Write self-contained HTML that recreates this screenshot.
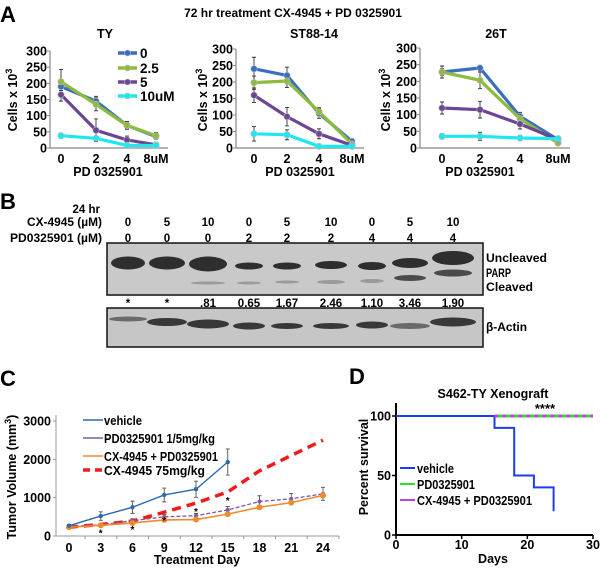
<!DOCTYPE html>
<html><head><meta charset="utf-8">
<style>
html,body{margin:0;padding:0;background:#fff;}
svg{display:block;font-family:"Liberation Sans",Arial,sans-serif;font-weight:bold;}
</style></head>
<body>
<svg id="fig" width="600" height="568" viewBox="0 0 600 568" xmlns="http://www.w3.org/2000/svg">
<text x="0" y="22" font-size="22">A</text>
<text x="293" y="17" font-size="12" text-anchor="middle">72 hr treatment CX-4945 + PD 0325901</text>
<g id="pa"></g>
<text x="0" y="209" font-size="22">B</text>
<g id="pb"></g>
<text x="0" y="386" font-size="22">C</text>
<g id="pc"></g>
<text x="349" y="384" font-size="22">D</text>
<g id="pd"></g>
</svg>
<script>
// ===== Panel A data =====
const aCats = ["0","2","4","8uM"];
const aTicks = [0,50,100,150,200,250,300];
const aSeriesNames = ["0","2.5","5","10uM"];
const tyS0 = [190,145,70,35];
const tyS25 = [205,135,70,38];
const tyS5 = [165,55,25,10];
const tyS10 = [38,30,8,8];
const stS0 = [240,220,105,20];
const stS25 = [198,203,110,12];
const stS5 = [160,95,43,8];
const stS10 = [43,40,5,5];
const t26S0 = [228,240,95,25];
const t26S25 = [228,203,88,15];
const t26S5 = [120,115,72,25];
const t26S10 = [35,35,30,28];
const tyErr = [[12,15,10,8],[38,20,12,10],[20,35,12,5],[8,5,5,4]];
const stErr = [[35,25,15,8],[20,20,12,6],[22,28,15,5],[22,15,5,3]];
const t26Err = [[10,8,12,10],[18,25,15,8],[18,25,15,6],[8,12,8,5]];

// ===== Panel B data =====
const bLanesCX = ["0","5","10","0","5","10","0","5","10"];
const bLanesPD = ["0","0","0","2","2","2","4","4","4"];
const bRatios = ["*","*",".81","0.65","1.67","2.46","1.10","3.46","1.90"];

// ===== Panel C data =====
const cDays = [0,3,6,9,12,15,18,21,24];
const cTicksY = [0,1000,2000,3000];
const cVehicle = [270,520,750,1070,1220,1930];
const cPD = [250,290,400,500,530,680,900,970,1100];
const cCombo = [230,280,340,420,430,570,750,870,1060];
const cCX = [230,300,390,620,860,1150,1700,2100,2500];
const cVehErr = [30,110,160,180,210,340];
const cPDErr = [20,40,50,60,60,90,150,140,170];

// ===== Panel D data =====
const dTimes = [0,15,18,21,24];
const dVehicle = [100,90,50,40,20];
const dPDTimes = [15,30];
const dPD = [100,100];
const dTicksX = [0,10,20,30];
const dTicksY = [0,50,100];

const NS = "http://www.w3.org/2000/svg";
function mk(parent, tag, attrs, txt){
  const e = document.createElementNS(NS, tag);
  for (const k in attrs) e.setAttribute(k, attrs[k]);
  if (txt !== undefined) e.textContent = txt;
  parent.appendChild(e);
  return e;
}

// ===== Panel A drawing =====
const aColors = ["#3a6fc0","#8dbb3c","#6d4596","#1de8f0"];
const pa = document.getElementById("pa");
function drawA(id, title, x0, catX, ylabX, yTop, data, errs, titleX, pdX, legend){
  const g = mk(pa, "g", {});
  
  
  const y0 = 148;
  const ys = v => y0 - (v / 300) * (y0 - yTop);
  const xs = i => catX[i];
  const axisR = catX[3] + 12;
  let e = mk(g, "line", {x1:x0, y1:yTop, x2:x0, y2:y0, stroke:"#888", "stroke-width":1.2});
  
  
  e = mk(g, "line", {x1:x0, y1:y0, x2:axisR, y2:y0, stroke:"#888", "stroke-width":1.2});
  
  
  aTicks.forEach(t => {
    mk(g, "line", {x1:x0-3, y1:ys(t), x2:x0, y2:ys(t), stroke:"#888"});
    const tt = mk(g, "text", {x:x0-3, y:ys(t)+4.5, "font-size":12.5, "text-anchor":"end"}, String(t));
    
    
  });
  aCats.forEach((c, i) => {
    const tt = mk(g, "text", {x:xs(i), y:163, "font-size":12.5, "text-anchor":"middle"}, c);
    
    
  });
  e = mk(g, "text", {x:pdX, y:176, "font-size":12.5, "text-anchor":"middle"}, "PD 0325901");
  
  
  e = mk(g, "text", {x:titleX, y:38, "font-size":12.5, "text-anchor":"middle"}, title);
  
  
  e = mk(g, "text", {x:0, y:0, "font-size":12.5, "text-anchor":"middle", transform:`translate(${ylabX+5},100) rotate(-90)`});
  
  
  mk(e, "tspan", {}, "Cells x 10");
  mk(e, "tspan", {dy:-5, "font-size":9}, "3");
  data.forEach((s, si) => {
    const err = errs[si];
    s.forEach((v, i) => {
      const eb = mk(g, "path", {d:`M${xs(i)},${ys(v+err[i])}V${ys(Math.max(0,v-err[i]))}M${xs(i)-2},${ys(v+err[i])}h4M${xs(i)-2},${ys(Math.max(0,v-err[i]))}h4`, stroke:"#333", "stroke-width":0.9, fill:"none"});
      
      
    });
  });
  data.forEach((s, si) => {
    const pts = s.map((v, i) => xs(i) + "," + ys(v)).join(" ");
    const pl = mk(g, "polyline", {points:pts, fill:"none", stroke:aColors[si], "stroke-width":3.2, "stroke-linejoin":"round"});
    
    
    s.forEach((v, i) => {
      const m = mk(g, "circle", {cx:xs(i), cy:ys(v), r:3.2, fill:aColors[si], stroke:"#bbb", "stroke-width":0.6});
      
      
    });
  });
  if (legend){
    const rows = [53,68,82,96];
    aSeriesNames.forEach((n, i) => {
      const l = mk(g, "line", {x1:118, y1:rows[i], x2:137, y2:rows[i], stroke:aColors[i], "stroke-width":3.5});
      
      
      mk(g, "circle", {cx:127.5, cy:rows[i], r:3, fill:aColors[i], stroke:"#bbb", "stroke-width":0.6});
      const t = mk(g, "text", {x:140, y:rows[i]+5, "font-size":13.5}, n);
      
      
    });
  }
}
drawA("ty", "TY", 50, [61,96,127,156], 12, 51, [tyS0,tyS25,tyS5,tyS10], tyErr, 105, 108, true);
drawA("st88", "ST88-14", 236, [254,287,319,352], 202, 49, [stS0,stS25,stS5,stS10], stErr, 314, 300, false);
drawA("t26", "26T", 420, [442,480,520,558], 385, 48, [t26S0,t26S25,t26S5,t26S10], t26Err, 496, 480, false);

// ===== Panel B drawing =====
const pb = document.getElementById("pb");
const laneX = [128,167,208,249,287,331,372,410,453];
const upperW = [30,32,34,24,24,28,24,32,38];
const upperH = [13,13,15,7,7,8,8,10,14];
const upperY = [263,263,264,266,266,265,266,263,258];
const cleavH = [0,0,3,3,3,4,4,6,7];
const cleavY = [282,282,283,283,282,282,281,278,273];
const actinH = [5,8,9,7,6,6,7,6,9];
const actinY = [319,322,324,326,326,326,325,326,322];
let bt = mk(pb, "text", {x:100, y:213, "font-size":11.5, "text-anchor":"end"}, "24 hr");


bt = mk(pb, "text", {x:27, y:226, "font-size":11.5, textLength:75, lengthAdjust:"spacingAndGlyphs"}, "CX-4945 (\u00b5M)");


bt = mk(pb, "text", {x:10, y:242, "font-size":11.5, textLength:92, lengthAdjust:"spacingAndGlyphs"}, "PD0325901 (\u00b5M)");


const blot1 = mk(pb, "rect", {x:107, y:243, width:376, height:52, fill:"#c9c9c9", stroke:"#111", "stroke-width":1.5});


const blot2 = mk(pb, "rect", {x:107, y:308, width:376, height:39, fill:"#c6c6c6", stroke:"#111", "stroke-width":1.5});


laneX.forEach((x, i) => {
  let t = mk(pb, "text", {x:x, y:226, "font-size":11.5, "text-anchor":"middle"}, bLanesCX[i]);
  
  
  t = mk(pb, "text", {x:x, y:242, "font-size":11.5, "text-anchor":"middle"}, bLanesPD[i]);
  
  
  t = mk(pb, "text", {x:x, y:307, "font-size":11.5, "text-anchor":"middle"}, bRatios[i]);
  
  
  let b = mk(pb, "ellipse", {cx:x, cy:upperY[i], rx:upperW[i]/2+2, ry:upperH[i]/2, fill:"#2e2e2e"});
  
  
  if (cleavH[i] > 0){
    b = mk(pb, "ellipse", {cx:x, cy:cleavY[i], rx:upperW[i]/2, ry:cleavH[i]/2, fill:i>6?"#4a4a4a":"#9a9a9a"});
    
    
  }
  b = mk(pb, "ellipse", {cx:x, cy:actinY[i], rx:upperW[i]/2+4, ry:actinH[i]/2, fill:i==0||i==7?"#6a6a6a":"#383838"});
  
  
});
[["Uncleaved",262,61],["PARP",277,25],["Cleaved",291,47]].forEach(r => {
  const t = mk(pb, "text", {x:486, y:r[1], "font-size":11.5, textLength:r[2], lengthAdjust:"spacingAndGlyphs"}, r[0]);
  
  
});
bt = mk(pb, "text", {x:486, y:331, "font-size":11.5, textLength:41, lengthAdjust:"spacingAndGlyphs"}, "\u03b2-Actin");



// ===== Panel C drawing =====
const pc = document.getElementById("pc");
const cx = d => 69 + d * (323 - 69) / 24;
const cy = v => 536 - v * (536 - 421) / 3000;
let ce = mk(pc, "line", {x1:56, y1:415, x2:56, y2:536, stroke:"#999"});


ce = mk(pc, "line", {x1:56, y1:536, x2:339, y2:536, stroke:"#999"});


cTicksY.forEach(t => {
  mk(pc, "line", {x1:53, y1:cy(t), x2:56, y2:cy(t), stroke:"#999"});
  const tt = mk(pc, "text", {x:51, y:cy(t)+4.5, "font-size":12.5, "text-anchor":"end"}, String(t));
  
  
});
cDays.forEach(d => {
  mk(pc, "line", {x1:cx(d)+16, y1:536, x2:cx(d)+16, y2:539, stroke:"#999"});
  const tt = mk(pc, "text", {x:cx(d), y:552, "font-size":12.5, "text-anchor":"middle"}, String(d));
  
  
});
ce = mk(pc, "text", {x:197, y:564, "font-size":12.5, "text-anchor":"middle"}, "Treatment Day");


ce = mk(pc, "text", {x:0, y:0, "font-size":12.5, "text-anchor":"middle", transform:"translate(16,477) rotate(-90)"});


mk(ce, "tspan", {}, "Tumor Volume (mm");
mk(ce, "tspan", {dy:-5, "font-size":9}, "3");
mk(ce, "tspan", {dy:5}, ")");
function errC(vals, errs, name){
  vals.forEach((v, i) => {
    const x = cx(cDays[i]);
    const e = mk(pc, "path", {d:`M${x},${cy(v+errs[i])}V${cy(v-errs[i])}M${x-2},${cy(v+errs[i])}h4M${x-2},${cy(v-errs[i])}h4`, stroke:"#555", "stroke-width":0.9, fill:"none"});
    
    
  });
}
errC(cVehicle, cVehErr, 'vehicle');
errC(cPD, cPDErr, 'pd0325901');
function lineC(vals, color, dash, width, name, marker){
  const pts = vals.map((v, i) => cx(cDays[i]) + "," + cy(v)).join(" ");
  const l = mk(pc, "polyline", {points:pts, fill:"none", stroke:color, "stroke-width":width, "stroke-dasharray":dash});
  
  
  if (marker) vals.forEach((v, i) => {
    const m = mk(pc, "circle", {cx:cx(cDays[i]), cy:cy(v), r:marker, fill:color});
    
    
  });
}
lineC(cCX, "#ee1c1c", "9,6", 3.5, 'cx4945', 0);
lineC(cPD, "#7b5aa6", "4,2", 1.3, 'pd0325901', 2);
lineC(cCombo, "#ef8a2a", "none", 1.6, 'combo', 3);
lineC(cVehicle, "#2e68b2", "none", 1.4, 'vehicle', 2.2);
[3,6,9,12,15].forEach(d => {
  const i = cDays.indexOf(d);
  const s = mk(pc, "text", {x:cx(d), y:cy(cCX[i])+12, "font-size":10, "text-anchor":"middle"}, "*");
  
  
});
const cLeg = [["vehicle","#2e68b2","none",420,38],["PD0325901 1/5mg/kg","#7b5aa6","none",438,111],["CX-4945 + PD0325901","#ef8a2a","none",456,114],["CX-4945 75mg/kg","#ee1c1c","7,5",470,101]];
cLeg.forEach(r => {
  const l = mk(pc, "line", {x1:83, y1:r[3], x2:103, y2:r[3], stroke:r[1], "stroke-width":r[2]==="none"?1.6:3.5, "stroke-dasharray":r[2]});
  
  
  const t = mk(pc, "text", {x:104, y:r[3]+5, "font-size":13, textLength:r[4], lengthAdjust:"spacingAndGlyphs"}, r[0]);
  
  
});

// ===== Panel D drawing =====
const pd = document.getElementById("pd");
const dx = t => 396 + t * (593 - 396) / 30;
const dy = v => 535 - v * (535 - 416) / 100;
let de = mk(pd, "path", {d:"M396,403V535H593", stroke:"#000", "stroke-width":2, fill:"none"});


dTicksY.forEach(t => {
  mk(pd, "line", {x1:392, y1:dy(t), x2:396, y2:dy(t), stroke:"#000", "stroke-width":1.5});
  const tt = mk(pd, "text", {x:391, y:dy(t)+4.5, "font-size":12.5, "text-anchor":"end"}, String(t));
  
  
});
dTicksX.forEach(t => {
  mk(pd, "line", {x1:dx(t), y1:535, x2:dx(t), y2:539, stroke:"#000", "stroke-width":1.5});
  const tt = mk(pd, "text", {x:dx(t), y:549, "font-size":12.5, "text-anchor":"middle"}, String(t));
  
  
});
de = mk(pd, "text", {x:493, y:563, "font-size":12.5, "text-anchor":"middle"}, "Days");


de = mk(pd, "text", {x:0, y:0, "font-size":12.5, "text-anchor":"middle", transform:"translate(368,467) rotate(-90)"}, "Percent survival");


de = mk(pd, "text", {x:493, y:398, "font-size":12.5, "text-anchor":"middle"}, "S462-TY Xenograft");


de = mk(pd, "text", {x:545, y:413, "font-size":13, "text-anchor":"middle"}, "****");


let dpath = "M" + dx(dTimes[0]) + "," + dy(dVehicle[0]);
for (let i = 1; i < dTimes.length; i++){
  dpath += "H" + dx(dTimes[i]) + "V" + dy(dVehicle[i]);
}
de = mk(pd, "path", {d:dpath, stroke:"#1a3ef0", "stroke-width":2, fill:"none"});


de = mk(pd, "line", {x1:dx(dPDTimes[0]), y1:dy(dPD[0]), x2:dx(dPDTimes[1]), y2:dy(dPD[1]), stroke:"#2ee02e", "stroke-width":3});


de = mk(pd, "line", {x1:dx(dPDTimes[0]), y1:dy(dPD[0]), x2:dx(dPDTimes[1]), y2:dy(dPD[1]), stroke:"#c040e0", "stroke-width":3, "stroke-dasharray":"4,4"});


const dLeg = [["vehicle","#1a3ef0",468,37],["PD0325901","#2ee02e",484,58],["CX-4945 + PD0325901","#c040e0",500,115]];
dLeg.forEach(r => {
  const l = mk(pd, "line", {x1:400, y1:r[2], x2:415, y2:r[2], stroke:r[1], "stroke-width":2});
  
  
  const t = mk(pd, "text", {x:417, y:r[2]+5, "font-size":13, textLength:r[3], lengthAdjust:"spacingAndGlyphs"}, r[0]);
  
  
});
</script>
</body></html>
